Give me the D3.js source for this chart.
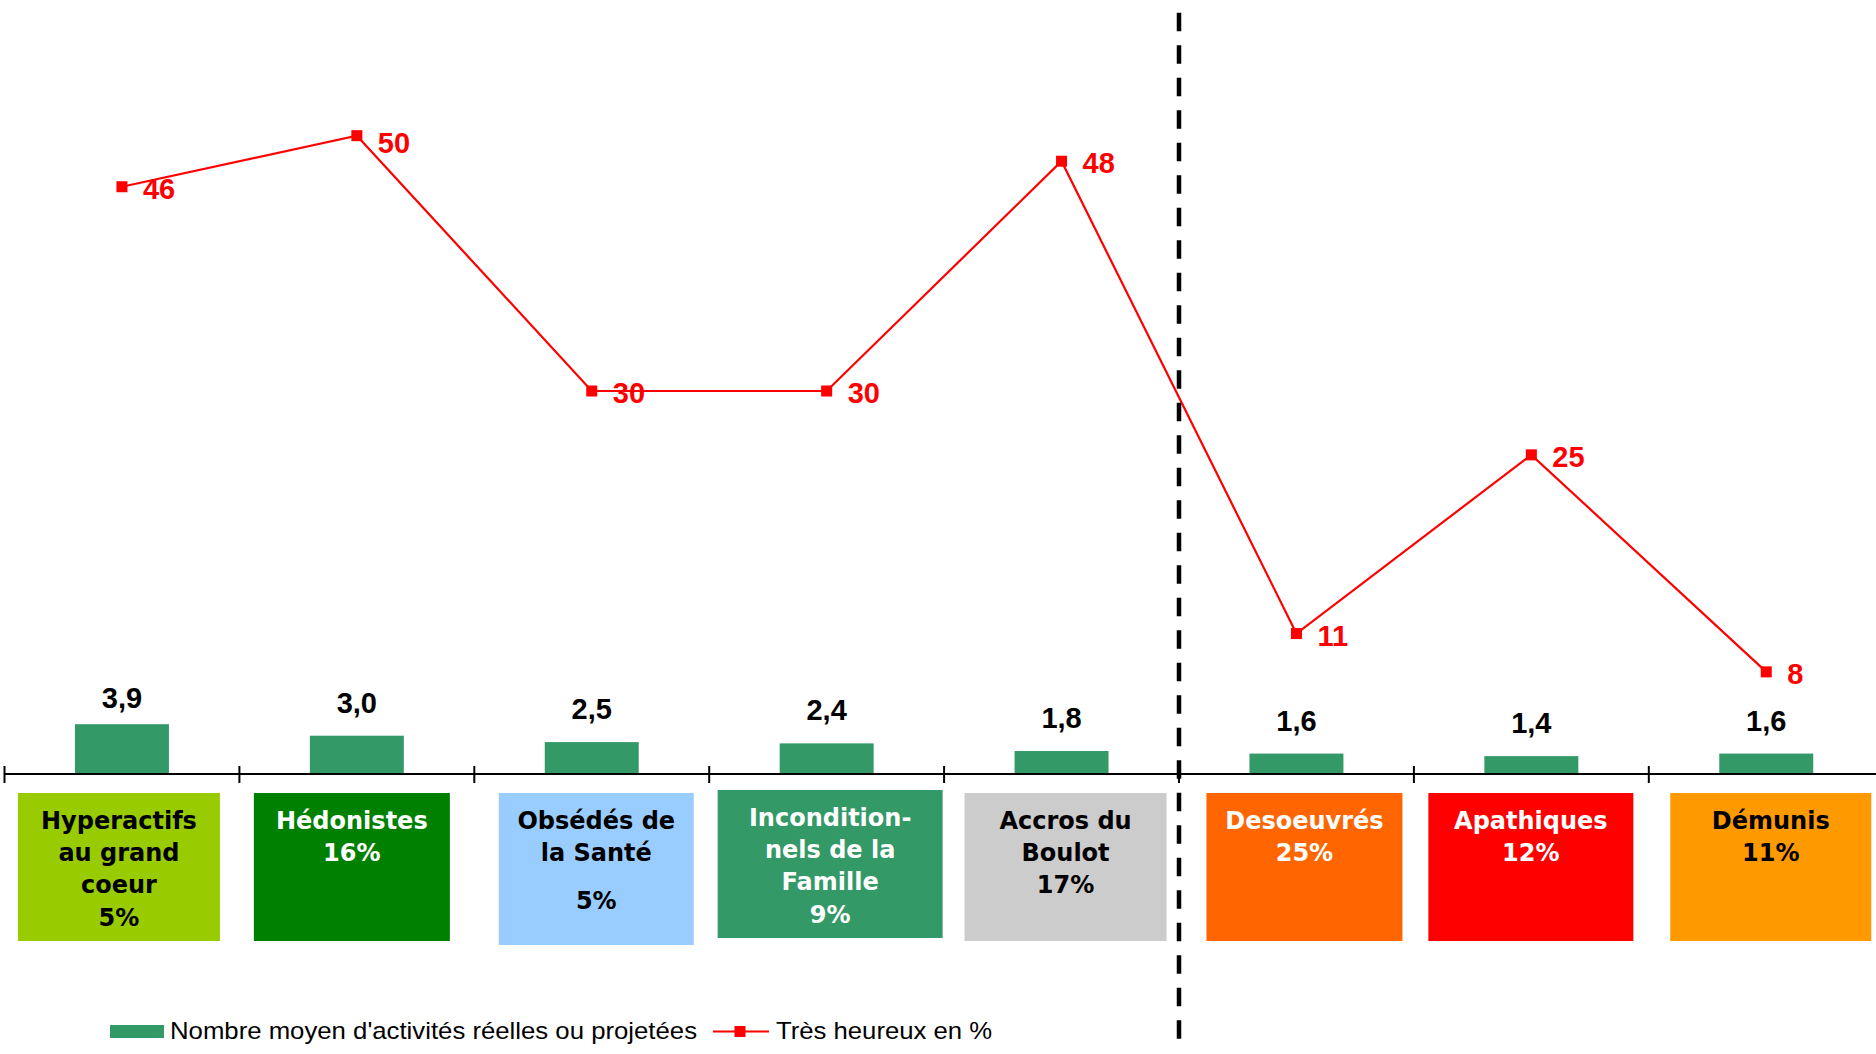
<!DOCTYPE html>
<html>
<head>
<meta charset="utf-8">
<script src="https://cdn.jsdelivr.net/npm/d3@7"></script>
<style>
  html, body { margin: 0; padding: 0; background: #fff; }
  svg { display: block; font-family: "Liberation Sans", Arial, sans-serif; }
</style>
</head>
<body>
<svg id="chart" width="1876" height="1054"></svg>
<script>
// ---- Data ----
const categories = ["Hyperactifs au grand coeur", "Hédonistes", "Obsédés de la Santé",
  "Inconditionnels de la Famille", "Accros du Boulot", "Desoeuvrés", "Apathiques", "Démunis"];
const activities = [3.9, 3.0, 2.5, 2.4, 1.8, 1.6, 1.4, 1.6];
const veryHappy = [46, 50, 30, 30, 48, 11, 25, 8];
const groupShare = ["5%", "16%", "5%", "9%", "17%", "25%", "12%", "11%"];
const groupNameLines = [
  ["Hyperactifs", "au grand", "coeur"],
  ["Hédonistes"],
  ["Obsédés de", "la Santé"],
  ["Incondition-", "nels de la", "Famille"],
  ["Accros du", "Boulot"],
  ["Desoeuvrés"],
  ["Apathiques"],
  ["Démunis"]
];
const legendLabels = ["Nombre moyen d'activités réelles ou projetées", "Très heureux en %"];

// ---- Styles / layout ----
const boxFill = ["#99CC00", "#008000", "#99CCFF", "#339966", "#CCCCCC", "#FF6600", "#FF0000", "#FF9900"];
const boxText = ["#000", "#fff", "#000", "#fff", "#000", "#fff", "#fff", "#000"];
// box geometry relative to band centre: [dx, width, top, height, pctLineIndex]
const boxLayout = [
  [-104, 202, 793, 148, 3], [-103, 196, 793, 148, 1], [-93, 195, 793, 152, 2.5],
  [-109, 225, 790, 148, 3], [-97, 202, 793, 148, 2], [-90, 196, 793, 148, 1],
  [-103, 205, 793, 148, 1], [-96, 201, 793, 148, 1]
];
const barLabelGap = [16, 23, 23, 23, 23, 23, 23, 23];
const lineLabelDy = [1.5, 7, 1.5, 1.5, 1.5, 1.5, 1.5, 1.5];

const svg = d3.select("#chart");
const barGreen = "#339966";
const red = "#FF0000";

const x = d3.scaleBand().domain(categories).range([4.5, 1883.7]).padding(0);
const y = d3.scaleLinear().domain([0, 60]).range([774, 8]);
const cx = c => x(c) + x.bandwidth() / 2;
const fmt = v => d3.format(".1f")(v).replace(".", ",");

// bars
const barW = x.bandwidth() * 0.4;
svg.append("g").selectAll("rect").data(categories).join("rect")
  .attr("x", (c) => cx(c) - barW / 2)
  .attr("y", (c, i) => y(activities[i]))
  .attr("width", barW)
  .attr("height", (c, i) => y(0) - y(activities[i]))
  .attr("fill", barGreen);

// bar labels
svg.append("g").selectAll("text").data(categories).join("text")
  .attr("x", c => cx(c))
  .attr("y", (c, i) => y(activities[i]) - barLabelGap[i])
  .attr("text-anchor", "middle")
  .attr("font-size", 29).attr("font-weight", "bold").attr("fill", "#000")
  .text((c, i) => fmt(activities[i]));

// axis
const axisG = svg.append("g").attr("transform", `translate(0,${y(0)})`);
axisG.append("line").attr("x1", 4.5).attr("x2", 1876).attr("y1", 0).attr("y2", 0)
  .attr("stroke", "#000").attr("stroke-width", 2.2);
axisG.selectAll("line.tick").data(categories).join("line").attr("class", "tick")
  .attr("x1", c => x(c)).attr("x2", c => x(c)).attr("y1", -8).attr("y2", 9)
  .attr("stroke", "#000").attr("stroke-width", 2);

// category boxes
const boxes = svg.append("g").selectAll("g").data(categories).join("g");
boxes.append("rect")
  .attr("x", (c, i) => cx(c) + boxLayout[i][0])
  .attr("y", (c, i) => boxLayout[i][2])
  .attr("width", (c, i) => boxLayout[i][1])
  .attr("height", (c, i) => boxLayout[i][3])
  .attr("fill", (c, i) => boxFill[i]);
boxes.each(function (c, i) {
  const g = d3.select(this);
  const L = boxLayout[i];
  const midX = cx(c) + L[0] + L[1] / 2;
  const firstY = L[2] + 27;
  const lh = 32.3;
  const lines = groupNameLines[i].map((t, k) => ({ t, k }));
  lines.push({ t: groupShare[i], k: L[4] });
  g.selectAll("text").data(lines).join("text")
    .attr("x", midX)
    .attr("y", d => firstY + d.k * lh)
    .attr("dy", "0.36em")
    .attr("text-anchor", "middle")
    .attr("font-family", "'DejaVu Sans', sans-serif")
    .attr("font-size", 24).attr("font-weight", "bold")
    .attr("fill", boxText[i])
    .text(d => d.t);
});

// line series
const line = d3.line().x((d, i) => cx(categories[i])).y(d => y(d));
svg.append("path").datum(veryHappy).attr("d", line)
  .attr("fill", "none").attr("stroke", red).attr("stroke-width", 2.2);
svg.append("g").selectAll("rect").data(veryHappy).join("rect")
  .attr("x", (d, i) => cx(categories[i]) - 5.5)
  .attr("y", d => y(d) - 5.5)
  .attr("width", 11).attr("height", 11).attr("fill", red);
svg.append("g").selectAll("text").data(veryHappy).join("text")
  .attr("x", (d, i) => cx(categories[i]) + 21)
  .attr("y", (d, i) => y(d) + lineLabelDy[i])
  .attr("dy", "0.36em")
  .attr("font-size", 29).attr("font-weight", "bold").attr("fill", red)
  .text(d => d);

// dashed separator between group 5 and 6
const sepX = x(categories[5]);
svg.append("line").attr("x1", sepX).attr("x2", sepX).attr("y1", 12.7).attr("y2", 1044)
  .attr("stroke", "#000").attr("stroke-width", 4.5)
  .attr("stroke-dasharray", "18.5 14");

// legend
const lg = svg.append("g");
lg.append("rect").attr("x", 110).attr("y", 1025).attr("width", 54).attr("height", 13).attr("fill", barGreen);
lg.append("text").attr("x", 170).attr("y", 1039).attr("font-size", 24).attr("fill", "#000")
  .attr("textLength", 527).attr("lengthAdjust", "spacingAndGlyphs").text(legendLabels[0]);
lg.append("line").attr("x1", 713).attr("x2", 769).attr("y1", 1031.5).attr("y2", 1031.5)
  .attr("stroke", red).attr("stroke-width", 2.2);
lg.append("rect").attr("x", 734.5).attr("y", 1026).attr("width", 11).attr("height", 11).attr("fill", red);
lg.append("text").attr("x", 776).attr("y", 1039).attr("font-size", 24).attr("fill", "#000")
  .attr("textLength", 216).attr("lengthAdjust", "spacingAndGlyphs").text(legendLabels[1]);
</script>
</body>
</html>
